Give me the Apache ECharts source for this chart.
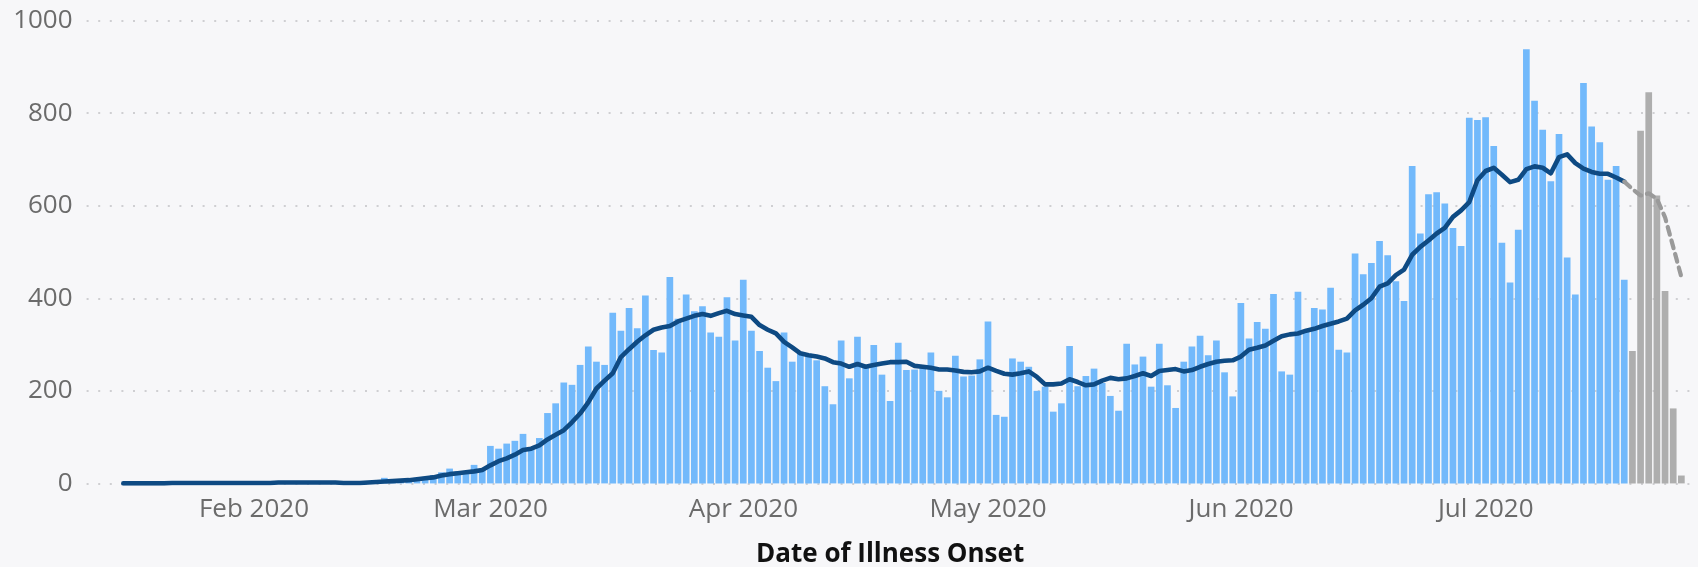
<!DOCTYPE html>
<html>
<head>
<meta charset="utf-8">
<script src="https://cdn.jsdelivr.net/npm/echarts@6/dist/echarts.min.js"></script>
<style>
  html, body { margin: 0; padding: 0; background: #f7f7f9; }
  #onsetChart { width: 1698px; height: 567px; }
</style>
</head>
<body>
<div id="onsetChart"></div>
<script>
// first day with data, and last one
var firstDay = '2020-01-15'
var lastDay = '2020-07-24'

// daily cases, Jan 15 .. Jul 17 (confirmed, blue)
var dailyCases = [
    0, 0, 0, 1, 0, 0, 0, 1, 0, 0, 1, 0, 0, 1, 0, 1, 0,
    1, 0, 2, 1, 1, 0, 2, 1, 1, 2, 0, 1, 1, 2, 3,
    12, 6, 8, 10, 12, 14, 18, 24, 32, 26, 27, 40, 29, 81,
    75, 86, 92, 107, 74, 98, 152, 173, 218, 213, 256, 296, 263, 256, 369, 330, 379, 335, 406, 288,
    283, 446, 356, 408, 372, 383, 326, 317, 402, 309, 440,
    330, 286, 250, 221, 326, 263, 284, 280, 266, 210, 171, 309, 227, 317, 255, 299, 235, 178, 304, 245,
    246, 250, 283, 200, 186, 276, 231, 233, 268, 350,
    148, 144, 270, 263, 252, 200, 209, 155, 173, 297, 210, 232, 248, 217, 189, 157, 302, 257, 274, 209,
    302, 212, 163, 263, 296, 319, 277, 309, 240, 188, 390,
    313, 349, 334, 409, 242, 235, 414, 327, 379, 376, 423, 289, 283, 497, 452, 476, 524, 493, 437, 394,
    686, 540, 625, 629, 605, 552, 513, 790, 785, 791,
    729, 520, 434, 548, 938, 827, 764, 653, 755, 488, 408, 865, 771, 737, 656, 686, 440
]
// Jul 18 .. Jul 24, still incomplete (grey)
var recentCases = [286, 762, 845, 622, 416, 162, 17]

// 7 day average, Jan 15 .. Jul 17
var avgCases = [
    0, 0, 0, 0, 0, 0, 1, 1, 1, 1, 1, 1, 1, 1, 1, 1, 1,
    1, 1, 2, 2, 2, 2, 2, 2, 2, 2, 1, 1, 1, 2,
    3, 4, 5, 6, 7, 9, 11, 13, 17, 20, 22, 24, 26, 29, 39,
    48, 54, 62, 72, 75, 82, 95, 105, 115, 132, 151, 175, 205, 222, 238, 273, 290, 306, 320, 332,
    337, 340, 350, 356, 362, 366, 362, 368, 373, 366, 363,
    360, 342, 332, 324, 306, 294, 281, 277, 274, 270, 262, 259, 252, 258, 252, 256, 259, 262, 262, 263,
    254, 252, 250, 246, 246, 244, 241, 240, 242, 250,
    243, 237, 235, 238, 242, 230, 214, 214, 216, 225, 219, 212, 214, 222, 228, 225, 227, 232, 238, 232,
    243, 245, 247, 242, 245, 252, 258, 263, 265, 266, 274,
    289, 293, 298, 308, 318, 322, 324, 330, 334, 340, 345, 350, 356, 374, 386, 400, 425, 432, 450, 462,
    494, 511, 525, 540, 552, 576, 590, 608, 655, 675,
    682, 667, 651, 656, 679, 685, 682, 670, 705, 711, 692, 680, 673, 669, 669, 661, 652
]
// average for the incomplete days, Jul 17 .. Jul 24 (dashed)
var avgRecent = [652, 636, 622, 627, 615, 575, 511, 446]

var yTicks = [0, 200, 400, 600, 800, 1000]
var monthNames = ['Jan', 'Feb', 'Mar', 'Apr', 'May', 'Jun', 'Jul', 'Aug', 'Sep', 'Oct', 'Nov', 'Dec']

// empty days on both sides so the plot has some room
var padBefore = 4
var padAfter = 1

function dayString(t) {
    return new Date(t).toISOString().slice(0, 10)
}

var days = []
var start = Date.parse(firstDay + 'T00:00:00Z') - padBefore * 86400000
var end = Date.parse(lastDay + 'T00:00:00Z') + padAfter * 86400000
for (var t = start; t <= end; t += 86400000) {
    days.push(dayString(t))
}

function placeAt(values, offset) {
    var out = []
    for (var i = 0; i < days.length; i++) {
        var k = i - offset
        out.push(k >= 0 && k < values.length ? values[k] : null)
    }
    return out
}

var blueOffset = padBefore
var greyOffset = padBefore + dailyCases.length
var dashOffset = padBefore + dailyCases.length - 1

var chart = echarts.init(document.getElementById('onsetChart'))
chart.setOption({
    animation: false,
    backgroundColor: '#f7f7f9',
    textStyle: { fontFamily: "'Segoe UI', 'Open Sans', sans-serif" },
    grid: {
        left: 86.6,
        right: 4.4,
        top: 20.6,
        bottom: 83.6,
        containLabel: false,
        outerBoundsMode: 'none'
    },
    xAxis: {
        type: 'category',
        data: days,
        axisLine: { show: false },
        axisTick: { show: false },
        axisLabel: {
            interval: function (index, value) {
                return value.slice(8) === '01'
            },
            formatter: function (value) {
                return monthNames[parseInt(value.slice(5, 7), 10) - 1] + ' ' + value.slice(0, 4)
            },
            color: '#6b6b6b',
            fontSize: 26,
            margin: 13,
            padding: [0, 16, 0, 0]
        },
        name: 'Date of Illness Onset',
        nameLocation: 'middle',
        nameGap: 58,
        nameTextStyle: {
            color: '#111',
            fontSize: 26,
            fontWeight: 'bold'
        }
    },
    yAxis: {
        type: 'value',
        min: yTicks[0],
        max: yTicks[yTicks.length - 1],
        interval: yTicks[1] - yTicks[0],
        axisLine: { show: false },
        axisTick: { show: false },
        axisLabel: {
            color: '#6b6b6b',
            fontSize: 26,
            margin: 14,
            formatter: function (v) { return String(v) }
        },
        splitLine: {
            lineStyle: {
                color: '#cfcfd2',
                width: 2,
                type: [2, 9.6]
            }
        }
    },
    series: [
        {
            name: 'Cases',
            type: 'bar',
            data: placeAt(dailyCases, blueOffset),
            barCategoryGap: '18%',
            itemStyle: { color: '#72b9fb' }
        },
        {
            name: 'Incomplete',
            type: 'bar',
            data: placeAt(recentCases, greyOffset),
            barGap: '-100%',
            barCategoryGap: '18%',
            itemStyle: { color: '#aeaeae' }
        },
        {
            name: '7 day average',
            type: 'line',
            data: placeAt(avgCases, blueOffset),
            showSymbol: false,
            symbol: 'none',
            lineStyle: { color: '#0e4a83', width: 4.6, join: 'round', cap: 'round' },
            z: 3
        },
        {
            name: '7 day average (incomplete)',
            type: 'line',
            data: placeAt(avgRecent, dashOffset),
            showSymbol: false,
            symbol: 'none',
            lineStyle: { color: '#9a9a9a', width: 4.2, type: [8, 6], cap: 'round' },
            z: 3
        }
    ]
})
</script>
</body>
</html>
